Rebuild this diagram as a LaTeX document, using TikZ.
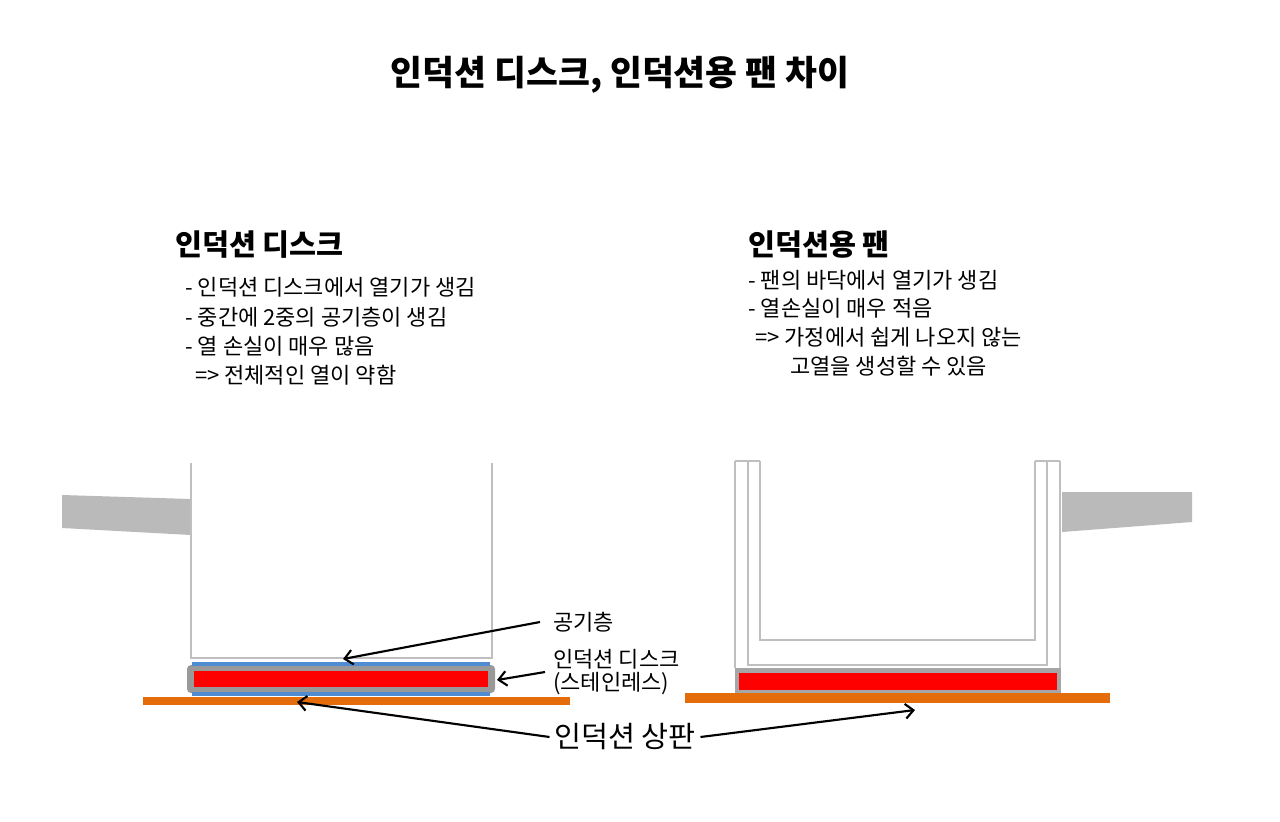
\documentclass[tikz,border=0pt]{standalone}
\usepackage{fontspec}
\setmainfont{Noto Sans CJK KR}
\usetikzlibrary{arrows.meta}
\definecolor{topc}{RGB}{228,108,10}
\definecolor{bluec}{RGB}{80,140,210}
\begin{document}
\begin{tikzpicture}[x=0.75pt,y=-0.75pt,
  wall/.style={draw=black!25,line width=1.6pt},
  lbl/.style={anchor=west,inner sep=0,font=\fontsize{16.5}{18}\selectfont},
  arr/.style={-{Straight Barb[length=6pt,width=11pt]},line width=1.6pt}]
\useasboundingbox (0,0) rectangle (1280,821);
\node[font=\fontsize{26}{28}\bfseries] (title) at (620,75) {인덕션 디스크, 인덕션용 팬 차이};
% left text
\node[lbl,font=\fontsize{22}{24}\bfseries] (lh) at (175,245) {인덕션 디스크};
\node[lbl] (l1) at (185,287) {- 인덕션 디스크에서 열기가 생김};
\node[lbl] (l2) at (185,317) {- 중간에 2중의 공기층이 생김};
\node[lbl] (l3) at (185,346) {- 열 손실이 매우 많음};
\node[lbl] (l4) at (185,375) {\ \ => 전체적인 열이 약함};
% right text
\node[lbl,font=\fontsize{22}{24}\bfseries] (rh) at (748,245) {인덕션용 팬};
\node[lbl] (r1) at (748,280) {- 팬의 바닥에서 열기가 생김};
\node[lbl] (r2) at (748,308) {- 열손실이 매우 적음};
\node[lbl] (r3) at (755,337) {=> 가정에서 쉽게 나오지 않는};
\node[lbl] (r4) at (790,366) {고열을 생성할 수 있음};
% left pot
\fill[black!27] (62,495) -- (191,499) -- (191,535) -- (62,528) -- cycle;
\draw[wall] (191,463) -- (191,658) -- (492,658) -- (492,463);
\fill[black!40,rounded corners=3pt] (187,665) rectangle (495,693);
\draw[bluec,line width=2.5pt] (192,664) -- (490,664) (192,694) -- (490,694);
\fill[red] (194,671) rectangle (488,687);
\fill[topc] (143,697) rectangle (570,705);
% right pot
\fill[black!27] (1062,492) -- (1192,492) -- (1192,522) -- (1062,532) -- cycle;
\draw[wall] (735,461) -- (735,668) (1060,461) -- (1060,668)
  (735,461) -- (748,461) (1047,461) -- (1060,461)
  (748,461) -- (748,665) -- (1047,665) -- (1047,461)
  (748,461) -- (760,461) (1035,461) -- (1047,461)
  (760,461) -- (760,640) -- (1035,640) -- (1035,461);
\fill[black!35] (735,668) rectangle (1061,693);
\fill[red] (739,673) rectangle (1057,690);
\fill[topc] (685,693) rectangle (1110,703);
% labels
\node[lbl] (air) at (553,622) {공기층};
\node[lbl] (disc) at (553,659) {인덕션 디스크};
\node[lbl] (ss) at (553,684) {(스테인레스)};
\node[font=\fontsize{22}{24}\selectfont] (top) at (625,737) {인덕션 상판};
\coordinate (a1) at (343,659);
\coordinate (a2) at (497,680);
\coordinate (a3) at (297,702);
\coordinate (a4) at (915,710);
\draw[arr] (540,622) -- (a1);
\draw[arr] (545,672) -- (a2);
\draw[arr] (top.west) -- (a3);
\draw[arr] (top.east) -- (a4);
\end{tikzpicture}
\end{document}
